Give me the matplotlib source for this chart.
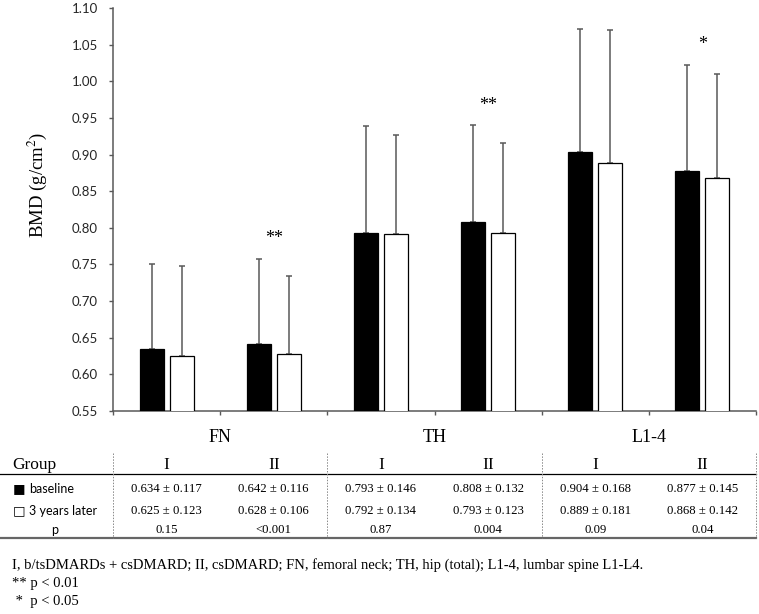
import numpy as np
import matplotlib
matplotlib.use("Agg")
import matplotlib.pyplot as plt
from matplotlib.transforms import blended_transform_factory

plt.rcParams['mathtext.fontset'] = 'stix'

# data
sites = ["FN", "TH", "L1-4"]
groups = ["I", "II"]
base_mean = [0.634, 0.642, 0.793, 0.808, 0.904, 0.877]
base_sd = [0.117, 0.116, 0.146, 0.132, 0.168, 0.145]
later_mean = [0.625, 0.628, 0.792, 0.793, 0.889, 0.868]
later_sd = [0.123, 0.106, 0.134, 0.123, 0.181, 0.142]
p_values = ["0.15", "<0.001", "0.87", "0.004", "0.09", "0.04"]
stars = ["", "**", "", "**", "", "*"]
yticks = [0.55, 0.60, 0.65, 0.70, 0.75, 0.80, 0.85, 0.90, 0.95, 1.00, 1.05, 1.10]
row_labels = ["baseline", "3 years later"]
footnotes = ["I, b/tsDMARDs + csDMARD; II, csDMARD; FN, femoral neck; TH, hip (total); L1-4, lumbar spine L1-L4.",
             "** p < 0.01",
             " *  p < 0.05"]

W, H = 759, 614
serif = "Liberation Serif"
sans = ["Lato", "DejaVu Sans"]
grey = "#595959"

fig = plt.figure(figsize=(W / 100, H / 100), dpi=100)
ax = fig.add_axes([113 / W, 1 - 411 / H, 643 / W, 403 / H])

x = np.arange(len(base_mean)) + 0.5
bw = 0.225
off = 0.14

ax.bar(x - off, base_mean, bw, color="black", edgecolor="black", linewidth=0.9, zorder=3)
ax.bar(x + off, later_mean, bw, color="white", edgecolor="black", linewidth=0.9, zorder=3)
zeros = np.zeros(len(x))
ax.errorbar(x - off, base_mean, yerr=[zeros, base_sd], fmt="none", ecolor=grey,
            elinewidth=1.1, capsize=2.5, capthick=1.1, zorder=2)
ax.errorbar(x + off, later_mean, yerr=[zeros, later_sd], fmt="none", ecolor=grey,
            elinewidth=1.1, capsize=2.5, capthick=1.1, zorder=2)

# significance marks
for i, s in enumerate(stars):
    if s:
        top = max(base_mean[i] + base_sd[i], later_mean[i] + later_sd[i])
        ax.text(x[i], top + 0.016, s, ha="center", va="bottom", family=serif, fontsize=13)

ax.set_xlim(0, len(x))
ax.set_ylim(0.55, 1.10)
ax.set_yticks(yticks)
ax.set_yticklabels(["%.2f" % t for t in yticks], family=sans, fontsize=9.5, color="#262626")
ax.set_xticks(np.arange(len(x) + 1))
ax.set_xticklabels([])
ax.tick_params(axis="y", direction="out", length=3, width=1, color=grey, pad=8)
ax.tick_params(axis="x", direction="out", length=3, width=1, color=grey)
for sp in ["top", "right"]:
    ax.spines[sp].set_visible(False)
for sp in ["left", "bottom"]:
    ax.spines[sp].set_color(grey)
    ax.spines[sp].set_linewidth(1.1)

fig.text(37 / W, 1 - 185 / H, "BMD (g/cm$^2$)", rotation=90, ha="center", va="center",
         family=serif, fontsize=13.5)

# overlay in pixel coordinates for the table
ov = fig.add_axes([0, 0, 1, 1], zorder=-1)
ov.set_xlim(0, W)
ov.set_ylim(H, 0)
ov.axis("off")
tr = blended_transform_factory(ax.transData, ov.transData)

for k, s in enumerate(sites):
    ov.text(2 * k + 1, 437, s, transform=tr, ha="center", va="center", family=serif, fontsize=13)

# table lines
ov.plot([0, 756], [474, 474], color="black", lw=0.9)
ov.plot([0, 756], [538, 538], color="#666666", lw=1.6)
for b in range(0, len(x) + 1, 2):
    ov.plot([b, b], [453, 538], transform=tr, color="#888888", lw=0.7, ls=(0, (1.5, 1.5)))

ov.text(12, 465, "Group", ha="left", va="center", family=serif, fontsize=12.5)
for r, (lab, sq, yy) in enumerate(zip(row_labels, ["\u25a0", "\u25a1"], [489, 511])):
    ov.text(13, yy, sq, ha="left", va="center", family="DejaVu Sans", fontsize=9.5)
    ov.text(29, yy, lab, ha="left", va="center", family=sans, fontsize=9)
ov.text(55, 530, "p", ha="center", va="center", family=sans, fontsize=9)
for i in range(len(x)):
    ov.text(x[i], 465, groups[i % 2], transform=tr, ha="center", va="center", family=serif, fontsize=12.5)
    ov.text(x[i], 489, "%.3f \u00b1 %.3f" % (base_mean[i], base_sd[i]), transform=tr,
            ha="center", va="center", family=serif, fontsize=9.2)
    ov.text(x[i], 511, "%.3f \u00b1 %.3f" % (later_mean[i], later_sd[i]), transform=tr,
            ha="center", va="center", family=serif, fontsize=9.2)
    ov.text(x[i], 530, p_values[i], transform=tr, ha="center", va="center", family=serif, fontsize=9.2)

for j, line in enumerate(footnotes):
    ov.text(12, 565 + 18.5 * j, line, ha="left", va="center", family=serif, fontsize=10.5)

fig.savefig("out.png", dpi=100)
